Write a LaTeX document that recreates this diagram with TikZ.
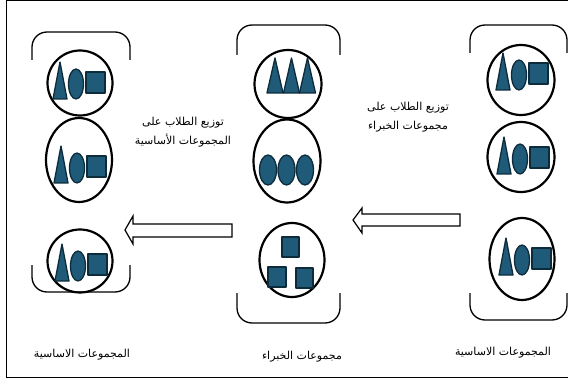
\documentclass[tikz,border=0pt]{standalone}
\usepackage{fontspec}
\newfontfamily\arabicfont[Script=Arabic]{DejaVu Sans}
\TeXXeTstate=1
\usetikzlibrary{shapes.geometric}
\definecolor{fillb}{HTML}{1F5B78}
\definecolor{edgeb}{HTML}{0C2B3B}
\tikzset{
  ring/.style={ellipse, draw=black, line width=2.2pt, inner sep=0pt},
  bracket/.style={draw=black, line width=1.3pt, rounded corners=15pt},
  piece/.style={fill=fillb, draw=edgeb, line width=1.3pt, line join=round},
  lbl/.style={font=\arabicfont\fontsize{11}{19}\selectfont, align=center, inner sep=0pt},
  blockarrow/.style={draw=black, line width=1.2pt, fill=white, line join=miter},
  trio/.pic={
    \path[piece] (-19,-19) -- (-12,18) -- (-26,18) -- cycle;
    \path[piece] (-3,3) ellipse [x radius=7.5, y radius=15];
    \path[piece] (7,-9) rectangle (26,12);
  }
}
\begin{document}
\begin{tikzpicture}[x=1pt,y=-1pt]
\useasboundingbox (0,0) rectangle (568,385);
% frame
\draw[line width=1pt] (570,1) -- (6,1) -- (6,377) -- (570,377);

% ---------- left group (basic groups) ----------
\draw[bracket] (32,60) -- (32,32) -- (130,32) -- (130,60);
\draw[bracket] (32,265) -- (32,292) -- (130,292) -- (130,265);
\node[ring, minimum width=65pt, minimum height=65pt] (L1) at (80,83) {};
\node[ring, minimum width=66pt, minimum height=84pt] (L2) at (79,160) {};
\node[ring, minimum width=65pt, minimum height=63pt] (L3) at (80,261) {};
\pic at (79,81) {trio};
\pic at (80,165) {trio};
\pic at (81,263) {trio};

% ---------- middle group (expert groups) ----------
\draw[bracket] (237,55) -- (237,25) -- (340,25) -- (340,55);
\draw[bracket] (237,293) -- (237,323) -- (340,323) -- (340,293);
\node[ring, minimum width=67pt, minimum height=68pt] (M1) at (288,84) {};
\node[ring, minimum width=67pt, minimum height=83pt] (M2) at (287,161) {};
\node[ring, minimum width=65pt, minimum height=74pt] (M3) at (292,260) {};
\foreach \cx in {275,291.5,307.5}
  \path[piece] (\cx,58) -- (\cx+8,93) -- (\cx-8,93) -- cycle;
\foreach \cx in {268,286.5,305}
  \path[piece] (\cx,170) ellipse [x radius=8.5, y radius=15];
\path[piece] (282,237) rectangle (299,257);
\path[piece] (268,267) rectangle (286,287);
\path[piece] (296,268) rectangle (313,288);

% ---------- right group (basic groups) ----------
\draw[bracket] (470,53) -- (470,25) -- (567,25) -- (567,53);
\draw[bracket] (470,293) -- (470,320) -- (567,320) -- (567,293);
\node[ring, minimum width=67pt, minimum height=70pt] (R1) at (521,80) {};
\node[ring, minimum width=67pt, minimum height=70pt] (R2) at (521,157) {};
\node[ring, minimum width=65pt, minimum height=82pt] (R3) at (522,259) {};
\pic at (522,72) {trio};
\pic at (523,156) {trio};
\pic at (525,257) {trio};

% ---------- block arrows ----------
\coordinate (a1t) at (353,220);
\draw[blockarrow] (460,214) -- (362,214) -- (362,208) -- (a1t) -- (362,233) -- (362,226) -- (460,226) -- cycle;
\coordinate (a2t) at (125,230);
\draw[blockarrow] (232,224) -- (133,224) -- (133,216) -- (a2t) -- (133,244) -- (133,237) -- (232,237) -- cycle;

% ---------- texts ----------
\node[lbl] (t1) at (183,132) {\beginR توزيع الطلاب على\endR\\\beginR المجموعات الأساسية\endR};
\node[lbl] (t2) at (408,117) {\beginR توزيع الطلاب على\endR\\\beginR مجموعات الخبراء\endR};
\node[lbl] (bL) at (82,355) {\beginR المجموعات الاساسية\endR};
\node[lbl] (bM) at (302,357) {\beginR مجموعات الخبراء\endR};
\node[lbl] (bR) at (503,353) {\beginR المجموعات الاساسية\endR};
\end{tikzpicture}
\end{document}
